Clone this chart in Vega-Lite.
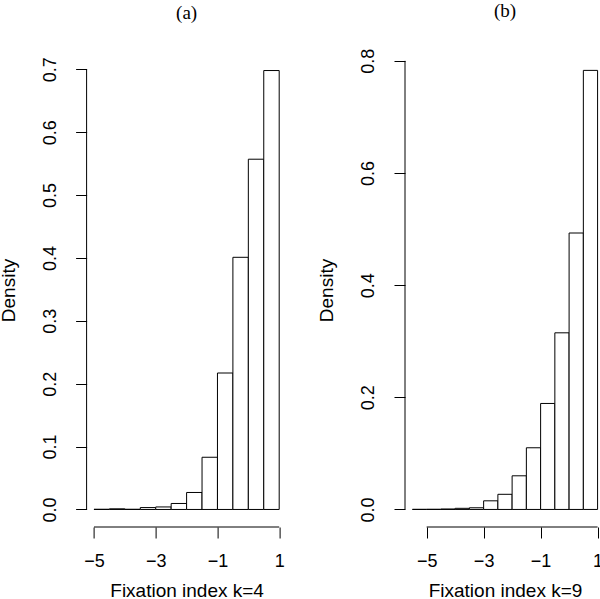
{
  "$schema": "https://vega.github.io/schema/vega-lite/v6.json",
  "autosize": {"type": "none"},
  "padding": {"left": 86.6, "top": 53, "right": 513.4, "bottom": 546},
  "background": "white",
  "bounds": "flush",
  "spacing": 118.4,
  "config": {
    "view": {"stroke": null},
    "font": "Liberation Sans",
    "axis": {
      "grid": false,
      "domain": false,
      "tickColor": "black",
      "tickWidth": 1,
      "tickSize": 11,
      "labelFont": "Liberation Sans",
      "labelFontSize": 18,
      "labelColor": "black",
      "labelFlush": false,
      "labelOverlap": false,
      "titleFont": "Liberation Sans",
      "titleFontSize": 19,
      "titleFontWeight": "normal",
      "titleColor": "black"
    },
    "title": {"font": "Liberation Serif", "fontSize": 19, "fontWeight": "normal", "color": "black", "baseline": "alphabetic", "offset": 39, "anchor": "middle"}
  },
  "datasets": {
    "a": [
      {"start": -5.0, "end": -4.5, "density": 0.0003},
      {"start": -4.5, "end": -4.0, "density": 0.001},
      {"start": -4.0, "end": -3.5, "density": 0.0003},
      {"start": -3.5, "end": -3.0, "density": 0.003},
      {"start": -3.0, "end": -2.5, "density": 0.004},
      {"start": -2.5, "end": -2.0, "density": 0.0095},
      {"start": -2.0, "end": -1.5, "density": 0.027},
      {"start": -1.5, "end": -1.0, "density": 0.083},
      {"start": -1.0, "end": -0.5, "density": 0.217},
      {"start": -0.5, "end": 0.0, "density": 0.401},
      {"start": 0.0, "end": 0.5, "density": 0.557},
      {"start": 0.5, "end": 1.0, "density": 0.698}
    ],
    "b": [
      {"start": -5.5, "end": -5.0, "density": 0.0002},
      {"start": -5.0, "end": -4.5, "density": 0.0003},
      {"start": -4.5, "end": -4.0, "density": 0.0008},
      {"start": -4.0, "end": -3.5, "density": 0.002},
      {"start": -3.5, "end": -3.0, "density": 0.003},
      {"start": -3.0, "end": -2.5, "density": 0.0154},
      {"start": -2.5, "end": -2.0, "density": 0.027},
      {"start": -2.0, "end": -1.5, "density": 0.060},
      {"start": -1.5, "end": -1.0, "density": 0.110},
      {"start": -1.0, "end": -0.5, "density": 0.189},
      {"start": -0.5, "end": 0.0, "density": 0.315},
      {"start": 0.0, "end": 0.5, "density": 0.493},
      {"start": 0.5, "end": 1.0, "density": 0.783}
    ]
  },
  "hconcat": [
    {
      "title": {"text": "(a)", "dy": 9},
      "width": 200,
      "height": 474,
      "layer": [
        {
          "data": {"name": "a"},
          "mark": {"type": "rect", "fill": "white", "stroke": "black", "strokeWidth": 1},
          "encoding": {
            "x": {
              "field": "start", "type": "quantitative",
              "scale": {"domain": [-5.24, 1.24], "nice": false, "zero": false},
              "axis": {
                "values": [-5, -4, -3, -2, -1, 0, 1],
                "format": "d",
                "labelExpr": "datum.value % 2 == 0 ? '' : datum.label",
                "labelBaseline": "alphabetic",
                "labelPadding": 28.7,
                "title": "Fixation index k=4",
                "titleBaseline": "alphabetic",
                "titleY": 69.5
              }
            },
            "x2": {"field": "end"},
            "y": {
              "field": "density", "type": "quantitative",
              "scale": {"domain": [-0.0279, 0.7259], "nice": false, "zero": false},
              "axis": {
                "values": [0, 0.1, 0.2, 0.3, 0.4, 0.5, 0.6, 0.7],
                "format": ".1f",
                "labelAngle": 270,
                "labelAlign": "center",
                "labelBaseline": "alphabetic",
                "labelPadding": 20.6,
                "title": "Density",
                "titleAngle": 270,
                "titleAlign": "center",
                "titleBaseline": "alphabetic",
                "titleX": -72.1,
                "titleY": 237
              }
            },
            "y2": {"datum": 0}
          }
        },
        {
          "data": {"values": [{}]},
          "mark": {"type": "rule", "color": "black", "strokeWidth": 1},
          "encoding": {"x": {"datum": -5}, "x2": {"datum": 1}, "y": {"datum": -0.0279}}
        },
        {
          "data": {"values": [{}]},
          "mark": {"type": "rule", "color": "black", "strokeWidth": 1},
          "encoding": {"x": {"datum": -5.24}, "y": {"datum": 0}, "y2": {"datum": 0.7}}
        }
      ]
    },
    {
      "title": {"text": "(b)", "dy": 12},
      "width": 200,
      "height": 474,
      "layer": [
        {
          "data": {"name": "b"},
          "mark": {"type": "rect", "fill": "white", "stroke": "black", "strokeWidth": 1},
          "encoding": {
            "x": {
              "field": "start", "type": "quantitative",
              "scale": {"domain": [-5.76, 1.26], "nice": false, "zero": false},
              "axis": {
                "values": [-5, -4, -3, -2, -1, 0, 1],
                "format": "d",
                "labelExpr": "datum.value % 2 == 0 ? '' : datum.label",
                "labelBaseline": "alphabetic",
                "labelPadding": 28.7,
                "title": "Fixation index k=9",
                "titleBaseline": "alphabetic",
                "titleY": 69.5
              }
            },
            "x2": {"field": "end"},
            "y": {
              "field": "density", "type": "quantitative",
              "scale": {"domain": [-0.0313, 0.814], "nice": false, "zero": false},
              "axis": {
                "values": [0, 0.2, 0.4, 0.6, 0.8],
                "format": ".1f",
                "labelAngle": 270,
                "labelAlign": "center",
                "labelBaseline": "alphabetic",
                "labelPadding": 20.6,
                "title": "Density",
                "titleAngle": 270,
                "titleAlign": "center",
                "titleBaseline": "alphabetic",
                "titleX": -72.1,
                "titleY": 237
              }
            },
            "y2": {"datum": 0}
          }
        },
        {
          "data": {"values": [{}]},
          "mark": {"type": "rule", "color": "black", "strokeWidth": 1},
          "encoding": {"x": {"datum": -5}, "x2": {"datum": 1}, "y": {"datum": -0.0313}}
        },
        {
          "data": {"values": [{}]},
          "mark": {"type": "rule", "color": "black", "strokeWidth": 1},
          "encoding": {"x": {"datum": -5.76}, "y": {"datum": 0}, "y2": {"datum": 0.8}}
        }
      ]
    }
  ]
}
